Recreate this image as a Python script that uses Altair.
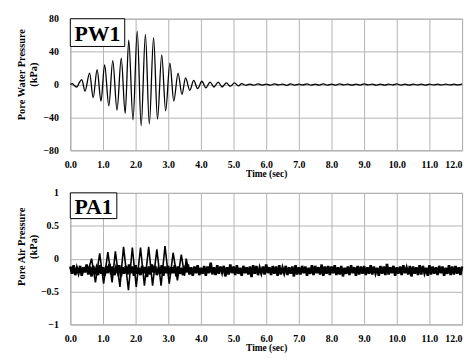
import altair as alt
import pandas as pd

SERIF = "Liberation Serif"

# ---------------- data ----------------
time_ticks = [0, 1, 2, 3, 4, 5, 6, 7, 8, 9, 10, 11, 12]
pw_ticks = [-80, -40, 0, 40, 80]
pa_ticks = [-1, -0.5, 0, 0.5, 1]

# Pore water pressure (kPa): extrema of the shaking record
pw_t = [0.0, 0.06, 0.12, 0.2, 0.27, 0.35, 0.45, 0.59, 0.7, 0.82, 0.94, 1.05,
        1.18, 1.3, 1.43, 1.56, 1.68, 1.79, 1.92, 2.05, 2.17, 2.3, 2.42, 2.55,
        2.67, 2.8, 2.92, 3.05, 3.17, 3.3, 3.42, 3.53, 3.66, 3.78, 3.9, 4.03,
        4.15, 4.28, 4.4, 4.53, 4.65, 4.78, 4.9, 5.03, 5.15]
pw_v = [0, 1, -1, -3, 2, 6, -8, 14, -16, 18, -20, 24,
        -26, 29, -31, 32, -35, 54, -43, 65, -50, 61, -48, 57,
        -42, 36, -32, 26, -20, 14, -12, 8, -7, 5, -5, 4,
        -4, 3, -3, 3, -3, 2, -2, 2, -1.5]
# small residual ripple after shaking (every 0.125 s from 5.25 s)
pw_tail = [1, -0.8, 0.6, -0.8, 0.9, -0.6, 0.5, -0.7, 0.8, -0.5, 0.6, -0.9,
           0.7, -0.6, 0.5, -0.5, 0.8, -0.7, 0.6, -0.6, 0.9, -0.8, 0.5, -0.6,
           0.7, -0.5, 0.6, -0.7, 0.5, -0.6, 0.8, -0.5, 0.6, -0.6, 0.5, -0.7,
           0.6, -0.5, 0.7, -0.6, 0.5, -0.6, 0.6, -0.5, 0.5, -0.6, 0.6, -0.5,
           0.5, -0.5, 0.6, -0.5, 0.5, -0.5, 0.4]

# Pore air pressure: background noise band (hundredths of kPa, every 0.05 s)
pa_noise = [
    -12, -23, -10, -25, -14, -22, -11, -26, -13, -21, -9, -24, -12, -27, -11, -22, -14, -25, -10, -23,
    -13, -26, -11, -22, -8, -24, -12, -25, -14, -21, -10, -27, -13, -23, -11, -24, -9, -22, -12, -26,
    -10, -23, -14, -25, -11, -22, -13, -28, -12, -24, -9, -21, -11, -25, -15, -23, -10, -26, -12, -22,
    -11, -24, -13, -22, -10, -27, -12, -23, -14, -25, -11, -21, -9, -24, -13, -26, -12, -22, -10, -25,
    -14, -23, -11, -26, -12, -22, -6, -24, -13, -25, -10, -23, -12, -21, -11, -27, -13, -24, -9, -22,
    -12, -25, -10, -23, -14, -26, -11, -22, -13, -24, -12, -28, -10, -23, -11, -25, -14, -22, -12, -24,
    -9, -22, -13, -25, -11, -23, -12, -26, -10, -24, -14, -22, -11, -25, -13, -23, -12, -27, -10, -24,
    -13, -24, -11, -22, -12, -26, -14, -23, -10, -25, -11, -22, -13, -24, -9, -26, -12, -23, -11, -25,
    -12, -22, -10, -25, -13, -24, -11, -27, -14, -23, -12, -25, -10, -22, -13, -26, -11, -24, -12, -23,
    -11, -25, -13, -23, -10, -24, -12, -22, -14, -26, -11, -23, -12, -25, -8, -24, -13, -22, -11, -26,
    -13, -23, -12, -25, -10, -22, -14, -24, -11, -27, -12, -23, -13, -25, -10, -24, -11, -22, -14, -26,
    -10, -24, -12, -23, -13, -25, -11, -22, -12, -26, -14, -23, -10, -25, -12, -24, -11, -23, -13, -25,
    -12]
# Pore air pressure: oscillation extrema during shaking (kPa)
pa_osc_t = [0.55, 0.65, 0.77, 0.9, 1.02, 1.15, 1.28, 1.38, 1.52, 1.63, 1.78, 1.9,
            2.02, 2.15, 2.27, 2.4, 2.52, 2.65, 2.78, 2.9, 3.03, 3.15, 3.28, 3.4,
            3.5, 3.55, 3.62]
pa_osc_v = [-0.18, 0.0, -0.36, 0.08, -0.38, 0.1, -0.36, 0.11, -0.43, 0.18, -0.48, 0.17,
            -0.43, 0.17, -0.41, 0.18, -0.41, 0.14, -0.41, 0.19, -0.38, 0.09, -0.33, 0.06,
            -0.26, 0.0, -0.18]

# ---------------- tables ----------------
tail_t = [5.25 + 0.125 * i for i in range(len(pw_tail))]
pw_df = pd.DataFrame({"t": pw_t + tail_t, "v": pw_v + pw_tail})
noise_df = pd.DataFrame({"t": [0.05 * i for i in range(len(pa_noise))],
                         "v": [n / 100 for n in pa_noise]})
osc_df = pd.DataFrame({"t": pa_osc_t, "v": pa_osc_v})

W, H = 396, 133

x_scale = alt.Scale(domain=[0, 12], nice=False, zero=False)
pw_scale = alt.Scale(domain=[-80, 80], nice=False)
pa_scale = alt.Scale(domain=[-1, 1], nice=False)


def x_axis():
    return alt.Axis(values=time_ticks, format=".1f", title="Time    (sec)",
                    labelPadding=9, titlePadding=-1, labelOverlap=False,
                    labelFlush=False,
                    labelAlign=alt.ConditionalAxisLabelAlign(
                        condition={"test": "datum.value >= 12", "value": "right"},
                        value="center"))


def y_axis(title, ticks, ty, fmt):
    return alt.Axis(values=ticks, format=fmt, title=title, titleX=-44, titleY=ty,
                    titleAngle=-90, titleAlign="center", titleBaseline="bottom",
                    titleLineHeight=12, labelPadding=12, labelOverlap=False,
                    labelFlush=False)


def label_box(name, w, h):
    d = pd.DataFrame({"label": [name]})
    box = alt.Chart(d).mark_rect(fill="white", stroke="black", strokeWidth=1).encode(
        x=alt.value(0), x2=alt.value(w), y=alt.value(0), y2=alt.value(h))
    txt = alt.Chart(d).mark_text(font=SERIF, fontWeight="bold", fontSize=22,
                                 align="center", baseline="middle").encode(
        x=alt.value(w / 2), y=alt.value(h / 2 + 1), text="label:N")
    return box + txt


top_line = alt.Chart(pw_df).mark_line(color="black", strokeWidth=1.3,
                                      interpolate="monotone").encode(
    x=alt.X("t:Q", scale=x_scale, axis=x_axis()),
    y=alt.Y("v:Q", scale=pw_scale,
            axis=y_axis(["Pore Water Pressure", "(kPa)"], pw_ticks, 56, "d")),
)
top = alt.layer(top_line, label_box("PW1", 55, 28)).properties(width=W, height=H)

pa_y_axis = y_axis(["Pore Air Pressure", "(kPa)"], pa_ticks, 54, "~g")
noise_line = alt.Chart(noise_df).mark_line(color="black", strokeWidth=2.6).encode(
    x=alt.X("t:Q", scale=x_scale, axis=x_axis()),
    y=alt.Y("v:Q", scale=pa_scale, axis=pa_y_axis),
)
osc_line = alt.Chart(osc_df).mark_line(color="black", strokeWidth=1.6).encode(
    x=alt.X("t:Q", scale=x_scale, axis=x_axis()),
    y=alt.Y("v:Q", scale=pa_scale, axis=pa_y_axis),
)
bottom = alt.layer(noise_line, osc_line, label_box("PA1", 47, 26)).properties(width=W, height=H)

chart = alt.vconcat(top, bottom, spacing=9).properties(
    padding={"left": 8, "top": 3, "right": 0, "bottom": 0}
).configure_view(stroke="#999", strokeWidth=1).configure_axis(
    grid=True, gridColor="#b3b3b3", gridWidth=1, domain=False, ticks=False,
    labelFont=SERIF, labelFontWeight="bold", labelFontSize=10, labelColor="black",
    titleFont=SERIF, titleFontWeight="bold", titleFontSize=10.5, titleColor="black",
).configure_axisX(titleFontSize=9.5)

chart.save("out.html", embed_options={"renderer": "svg", "actions": False})
